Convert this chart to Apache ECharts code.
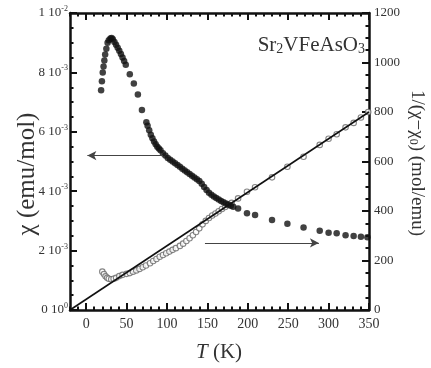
<!DOCTYPE html>
<html>
<head>
<meta charset="utf-8">
<script src="https://cdn.jsdelivr.net/npm/echarts@6/dist/echarts.min.js"></script>
<style>
  html, body { margin: 0; padding: 0; background: #fff; }
  #chart-box { width: 431px; height: 368px; }
</style>
</head>
<body>
<div id="chart-box"></div>
<script>
// temperature axis ticks
var xMajor = [0, 50, 100, 150, 200, 250, 300, 350];
var xMinor = [-20, -10, 0, 10, 20, 30, 40, 50, 60, 70, 80, 90, 100, 110, 120, 130, 140, 150, 160, 170,
    180, 190, 200, 210, 220, 230, 240, 250, 260, 270, 280, 290, 300, 310, 320, 330, 340, 350];

// chi (emu/mol), filled dots
var chiT = [18.5, 19.5, 20.5, 21.5, 22.5, 23.5, 25, 26.5, 28, 30, 31.5, 33, 35, 37, 39, 41, 43, 45, 47, 49,
    54, 59, 64, 69, 74.5, 76, 78, 80, 82, 84, 86, 88, 90, 92, 95, 98, 101, 104, 107, 110, 113, 116, 119,
    122, 125, 128, 131, 134, 137, 140, 143, 146, 149, 152, 155, 158, 161, 164, 167, 170, 173, 176, 179, 182,
    188, 199, 209, 230, 249, 269, 289, 300, 310, 321, 331, 340, 348];
var chiVal = [0.0074, 0.0077, 0.0080, 0.0082, 0.0084, 0.0086, 0.0088, 0.0090, 0.00908, 0.00914, 0.00916,
    0.00912, 0.00902, 0.00893, 0.00883, 0.00873, 0.00862, 0.00850, 0.00838, 0.00826,
    0.00794, 0.00763, 0.00726, 0.00673, 0.00632, 0.00620, 0.00605, 0.00590, 0.00578, 0.00567, 0.00558,
    0.00550, 0.00544, 0.00538, 0.00528, 0.00520, 0.00512, 0.00506, 0.00500, 0.00494, 0.00488, 0.00482,
    0.00476, 0.00470, 0.00464, 0.00458, 0.00452, 0.00446, 0.00440, 0.00434, 0.00425, 0.00414, 0.00404,
    0.00395, 0.00388, 0.00382, 0.00377, 0.00372, 0.00367, 0.00363, 0.00359, 0.00355, 0.00351, 0.00348,
    0.00342, 0.00326, 0.00320, 0.00303, 0.00290, 0.00278, 0.00267, 0.00260, 0.00258, 0.00252, 0.00249,
    0.00247, 0.00245];

// 1/(chi-chi0) (mol/emu), open circles
var invT = [20, 22, 24, 26, 28, 31, 34, 37, 41, 45, 50, 54, 58, 62, 66, 70, 74, 79, 83, 87, 91, 95, 99,
    103, 107, 111, 116, 120, 124, 128, 132, 136, 140, 144, 148, 152, 156, 160, 164, 168, 172, 176, 180,
    188, 199, 209, 230, 249, 269, 289, 300, 310, 321, 331, 340, 349];
var invVal = [155, 145, 136, 130, 126, 124, 126, 130, 137, 142, 146, 149, 155, 160, 166, 173, 180, 189,
    198, 206, 215, 222, 229, 236, 243, 250, 259, 268, 279, 290, 302, 315, 330, 346, 360, 372, 382, 390,
    399, 408, 416, 424, 433, 451, 478, 496, 536, 579, 619, 667, 692, 710, 738, 756, 778, 800];

// Curie-Weiss fit line
var fitT = [-20, 350];
var fitVal = [0, 800];

function pairs(xs, ys) {
    var res = [];
    for (let i = 0; i < xs.length; ++i) res.push([xs[i], ys[i]]);
    return res;
}

function sciLabel(v) {
    if (v === 0) return '{b|0 10}{s|0}';
    var e = Math.floor(Math.log10(v) + 1e-9);
    var m = Math.round(v / Math.pow(10, e));
    return '{b|' + m + ' 10}{s|' + e + '}';
}

var serif = '"Liberation Serif", "DejaVu Serif", serif';
var txt = '#333';

function xAxisDef(pos, ticks, len, labels) {
    return {
        type: 'value', position: pos, min: -20, max: 350,
        axisLine: { show: len > 5, onZero: false, lineStyle: { color: '#111', width: 2.5 } },
        axisTick: { show: true, inside: true, length: len, customValues: ticks,
            lineStyle: { color: '#111', width: 2 } },
        axisLabel: labels ? { show: true, customValues: xMajor, margin: 7,
            fontFamily: serif, fontSize: 14, color: txt } : { show: false },
        splitLine: { show: false }
    };
}

var chart = echarts.init(document.getElementById('chart-box'));
var option = {
    animation: false,
    backgroundColor: '#fff',
    grid: { left: 70, right: 62, top: 13, bottom: 58 },
    xAxis: [
        xAxisDef('bottom', xMajor, 7, true),
        xAxisDef('bottom', xMinor, 3.5, false),
        xAxisDef('top', xMajor, 7, false),
        xAxisDef('top', xMinor, 3.5, false)
    ],
    yAxis: [{
        type: 'value', position: 'left', min: 0, max: 0.01, interval: 0.002,
        axisLine: { show: true, onZero: false, lineStyle: { color: '#111', width: 2.5 } },
        axisTick: { show: true, inside: true, length: 7, lineStyle: { color: '#111', width: 2 } },
        minorTick: { show: true, splitNumber: 4, length: 3.5, lineStyle: { color: '#111', width: 2 } },
        splitLine: { show: false },
        axisLabel: {
            margin: 2, color: txt, formatter: sciLabel,
            rich: {
                b: { fontFamily: serif, fontSize: 13, color: txt, lineHeight: 16 },
                s: { fontFamily: serif, fontSize: 8, color: txt, verticalAlign: 'top', lineHeight: 16, padding: [0, 0, 6, 0] }
            }
        }
    }, {
        type: 'value', position: 'right', min: 0, max: 1200, interval: 200,
        axisLine: { show: true, onZero: false, lineStyle: { color: '#111', width: 2.5 } },
        axisTick: { show: true, inside: true, length: 7, lineStyle: { color: '#111', width: 2 } },
        minorTick: { show: true, splitNumber: 4, length: 3.5, lineStyle: { color: '#111', width: 2 } },
        splitLine: { show: false },
        axisLabel: { margin: 5, fontFamily: serif, fontSize: 13, color: txt,
            formatter: function(v) { return String(v); } }
    }],
    series: [{
        type: 'line', xAxisIndex: 0, yAxisIndex: 1,
        data: pairs(fitT, fitVal), showSymbol: false, clip: true,
        lineStyle: { color: '#111', width: 1.6 }
    }, {
        type: 'scatter', xAxisIndex: 0, yAxisIndex: 1,
        data: pairs(invT, invVal), symbol: 'circle', symbolSize: 5.5,
        itemStyle: { color: '#fff', borderColor: '#666', borderWidth: 1.1 }
    }, {
        type: 'scatter', xAxisIndex: 0, yAxisIndex: 0,
        data: pairs(chiT, chiVal), symbol: 'circle', symbolSize: 6.5,
        itemStyle: { color: '#111' },
        markLine: {
            silent: true, symbol: ['none', 'arrow'], symbolSize: [7, 9],
            label: { show: false },
            lineStyle: { color: '#444', type: 'solid', width: 1.2 },
            data: [
                [{ coord: [95, 0.0052] }, { coord: [1.5, 0.0052] }],
                [{ coord: [147, 0.00226] }, { coord: [288, 0.00226] }]
            ]
        }
    }],
    graphic: [{
        type: 'text', x: 27, y: 174, rotation: Math.PI / 2,
        style: { text: 'χ (emu/mol)', font: '25px ' + serif, fill: txt, align: 'center', verticalAlign: 'middle' }
    }, {
        type: 'text', x: 417, y: 163, rotation: -Math.PI / 2,
        style: {
            text: '1/(χ−χ{sb|0}) (mol/emu)', font: '19px ' + serif, fill: txt, align: 'center', verticalAlign: 'middle',
            rich: { sb: { fontFamily: serif, fontSize: 12, fill: txt, verticalAlign: 'bottom', padding: [7, 0, 0, 0] } }
        }
    }, {
        type: 'text', x: 219, y: 352,
        style: {
            text: '{i|T} (K)', font: '21px ' + serif, fill: txt, align: 'center', verticalAlign: 'middle',
            rich: { i: { fontFamily: serif, fontSize: 21, fontStyle: 'italic', fill: txt } }
        }
    }, {
        type: 'text', x: 365, y: 45,
        style: {
            text: 'Sr{sb|2}VFeAsO{sb|3}', font: '21px ' + serif, fill: txt, align: 'right', verticalAlign: 'middle',
            rich: { sb: { fontFamily: serif, fontSize: 14, fill: txt, verticalAlign: 'bottom', padding: [9, 0, 0, 0] } }
        }
    }]
};
chart.setOption(option);
</script>
</body>
</html>
